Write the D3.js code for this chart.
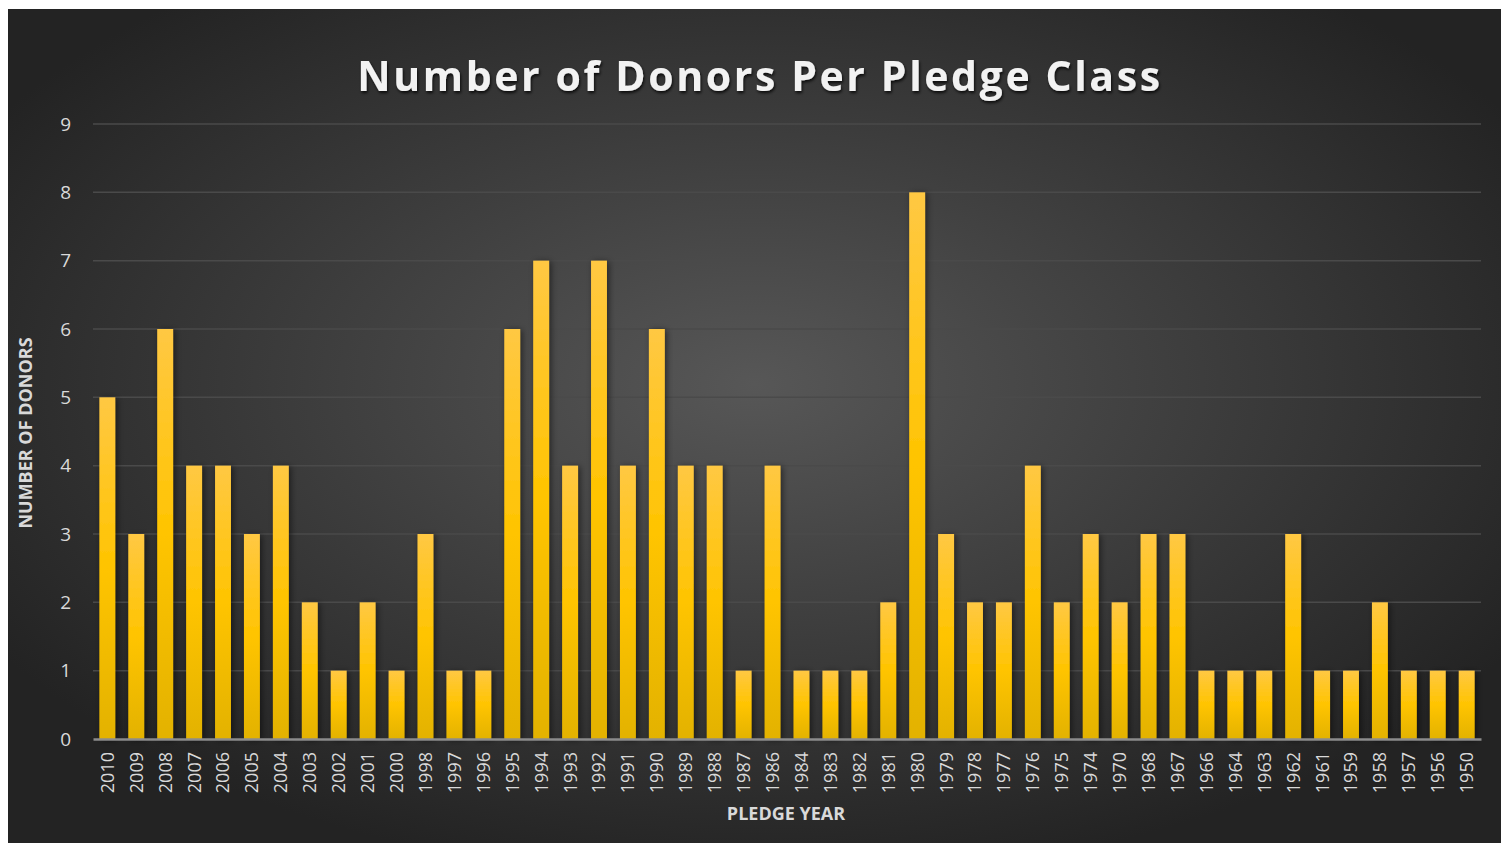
<!DOCTYPE html>
<html>
<head>
<meta charset="utf-8">
<script src="https://cdn.jsdelivr.net/npm/d3@7"></script>
<style>
  body { margin: 0; background: #fff; }
  svg { display: block; }
</style>
</head>
<body>
<div id="chart"></div>
<script>
const years = ["2010","2009","2008","2007","2006","2005","2004","2003","2002","2001","2000","1998","1997","1996","1995","1994","1993","1992","1991","1990","1989","1988","1987","1986","1984","1983","1982","1981","1980","1979","1978","1977","1976","1975","1974","1970","1968","1967","1966","1964","1963","1962","1961","1959","1958","1957","1956","1950"]
const donors = [5,3,6,4,4,3,4,2,1,2,1,3,1,1,6,7,4,7,4,6,4,4,1,4,1,1,1,2,8,3,2,2,4,2,3,2,3,3,1,1,1,3,1,1,2,1,1,1]
const yTicks = [0,1,2,3,4,5,6,7,8,9]

const width = 1501, height = 843
const margin = { top: 124, right: 20, bottom: 104, left: 93 }
const font = "'Open Sans', sans-serif"

const svg = d3.select("#chart")
  .append("svg")
    .attr("width", width)
    .attr("height", height)
    .style("font-family", font)

const defs = svg.append("defs")

const bg = defs.append("radialGradient")
  .attr("id", "bg")
  .attr("cx", "50%").attr("cy", "45%").attr("r", "60%")
bg.append("stop").attr("offset", "0%").attr("stop-color", "#575757")
bg.append("stop").attr("offset", "100%").attr("stop-color", "#232323")

const barGrad = defs.append("linearGradient")
  .attr("id", "bar")
  .attr("x1", 0).attr("y1", 0).attr("x2", 0).attr("y2", 1)
barGrad.append("stop").attr("offset", "0%").attr("stop-color", "#ffc843")
barGrad.append("stop").attr("offset", "50%").attr("stop-color", "#ffc400")
barGrad.append("stop").attr("offset", "100%").attr("stop-color", "#e3b200")

const shadow = defs.append("filter").attr("id", "shadow")
  .attr("x", "-50%").attr("y", "-10%").attr("width", "200%").attr("height", "120%")
shadow.append("feDropShadow")
  .attr("dx", 2).attr("dy", 1).attr("stdDeviation", 3)
  .attr("flood-color", "#000").attr("flood-opacity", 0.5)

const titleShadow = defs.append("filter").attr("id", "tshadow")
titleShadow.append("feDropShadow")
  .attr("dx", 1).attr("dy", 2).attr("stdDeviation", 1.5)
  .attr("flood-color", "#000").attr("flood-opacity", 0.8)

svg.append("rect")
  .attr("x", 8).attr("y", 9)
  .attr("width", width - 8).attr("height", height - 9)
  .attr("fill", "url(#bg)")

const x = d3.scaleBand()
  .domain(years)
  .range([margin.left, width - margin.right])
  .paddingInner(0.45)
  .paddingOuter(0.22)

const y = d3.scaleLinear()
  .domain([0, 9])
  .range([height - margin.bottom, margin.top])

// gridlines
svg.append("g")
  .selectAll("line")
  .data(yTicks.filter(d => d > 0))
  .join("line")
    .attr("x1", margin.left)
    .attr("x2", width - margin.right)
    .attr("y1", d => y(d))
    .attr("y2", d => y(d))
    .attr("stroke", "#4a4a4a")
    .attr("stroke-width", 1.5)

// y labels
const yAxis = svg.append("g")
  .attr("transform", `translate(${margin.left}, 0)`)
  .call(d3.axisLeft(y).tickValues(yTicks).tickSize(0).tickPadding(22))
yAxis.attr("font-family", null)
yAxis.select(".domain").remove()
yAxis.selectAll("text")
  .attr("fill", "#d9d9d9")
  .style("font-family", font)
  .style("font-size", "19px")

// bars
svg.append("g")
  .selectAll("rect")
  .data(years)
  .join("rect")
    .attr("x", d => x(d))
    .attr("y", (d, i) => y(donors[i]))
    .attr("width", x.bandwidth())
    .attr("height", (d, i) => y(0) - y(donors[i]))
    .attr("fill", "url(#bar)")
    .attr("filter", "url(#shadow)")

// x axis
const xAxis = svg.append("g")
  .attr("transform", `translate(0, ${y(0)})`)
  .call(d3.axisBottom(x).tickSize(0))
xAxis.attr("font-family", null)
xAxis.select(".domain")
  .attr("stroke", "#8c8c8c")
  .attr("stroke-width", 2.5)
xAxis.selectAll("text")
  .attr("fill", "#d9d9d9")
  .style("font-family", font)
  .style("font-size", "18px")
  .attr("transform", "rotate(-90)")
  .attr("text-anchor", "end")
  .attr("x", -13)
  .attr("y", 0)
  .attr("dy", "0.36em")

// title
svg.append("text")
  .text("Number of Donors Per Pledge Class")
  .attr("x", 760)
  .attr("y", 91)
  .attr("text-anchor", "middle")
  .attr("fill", "#f2f2f2")
  .attr("filter", "url(#tshadow)")
  .style("font-size", "41px")
  .style("font-weight", "bold")
  .style("letter-spacing", "2.6px")

svg.append("text")
  .text("PLEDGE YEAR")
  .attr("x", 786)
  .attr("y", 820)
  .attr("text-anchor", "middle")
  .attr("fill", "#d9d9d9")
  .style("font-size", "18px")
  .style("font-weight", "bold")

svg.append("text")
  .text("NUMBER OF DONORS")
  .attr("transform", "translate(32, 433) rotate(-90)")
  .attr("text-anchor", "middle")
  .attr("fill", "#d9d9d9")
  .style("font-size", "18px")
  .style("font-weight", "bold")
</script>
</body>
</html>
